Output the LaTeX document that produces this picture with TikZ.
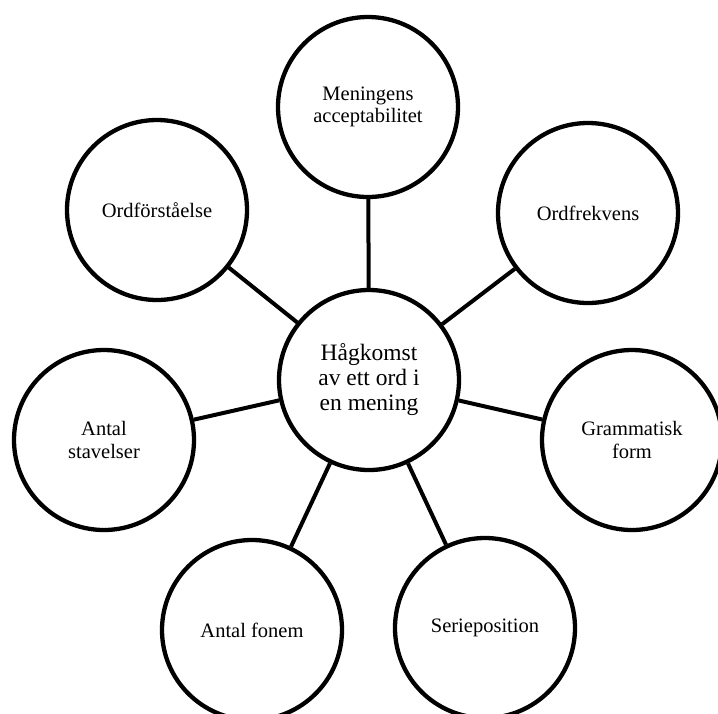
\documentclass[tikz,border=0pt]{standalone}
\usepackage{fontspec}
\setmainfont{Liberation Serif}
\begin{document}
\begin{tikzpicture}[x=1pt,y=-1pt,
  bubble/.style={circle,draw=black,line width=4.3pt,minimum size=180pt,inner sep=0pt,align=center,
    font=\fontsize{20.5pt}{22.5pt}\selectfont},
  hub/.style={bubble,font=\fontsize{23.5pt}{25pt}\selectfont},
  link/.style={line width=4pt}]
\useasboundingbox (0,0) rectangle (718,713);
\node[hub] (c) at (369,380) {Hågkomst\\av ett ord i\\en mening};
\node[bubble] (m) at (368,107) {Meningens\\acceptabilitet};
\node[bubble] (of) at (157,210) {Ordförståelse};
\node[bubble] (fr) at (588,213) {Ordfrekvens};
\node[bubble] (as) at (104,440) {Antal\\stavelser};
\node[bubble] (gf) at (632,440) {Grammatisk\\form};
\node[bubble] (af) at (252,630) {Antal fonem};
\node[bubble] (sp) at (485,628) {Serieposition};
\foreach \n in {m,of,fr,as,gf,af,sp} \draw[link] (c) -- (\n);
\end{tikzpicture}
\end{document}
